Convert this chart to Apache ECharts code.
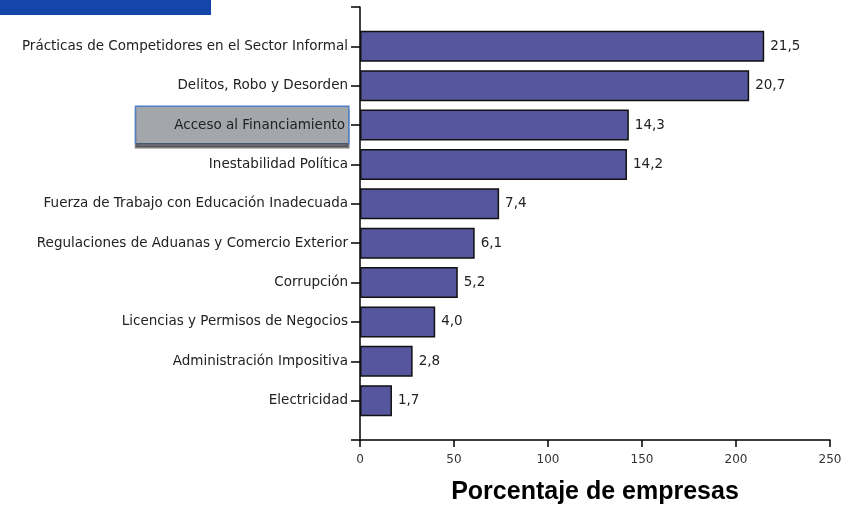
<!DOCTYPE html>
<html><head><meta charset="utf-8">
<script src="https://cdn.jsdelivr.net/npm/echarts@6/dist/echarts.min.js"></script>
<style>html,body{margin:0;padding:0;background:#fff}#c{width:844px;height:506px}</style>
</head><body><div id="c"></div>
<script>
var categories = [
  'Prácticas de Competidores en el Sector Informal',
  'Delitos, Robo y Desorden',
  'Acceso al Financiamiento',
  'Inestabilidad Política',
  'Fuerza de Trabajo con Educación Inadecuada',
  'Regulaciones de Aduanas y Comercio Exterior',
  'Corrupción',
  'Licencias y Permisos de Negocios',
  'Administración Impositiva',
  'Electricidad'
];
var values = [215, 207, 143, 142, 74, 61, 52, 40, 28, 17];
var highlighted = 'Acceso al Financiamiento';
var xTicks = [0, 50, 100, 150, 200, 250];

var cats = [''].concat(categories).concat(['']);
var data = [null].concat(values).concat([null]);
var FF = 'DejaVu Sans, Verdana, sans-serif';

var chart = echarts.init(document.getElementById('c'));
chart.setOption({
  animation: false,
  graphic: [{type:'rect', left:0, top:0, shape:{width:211, height:15}, style:{fill:'#1346A8'}}],
  grid: {left:360, right:14, top:7, bottom:66, containLabel:false, outerBoundsMode:'none'},
  xAxis: {
    type:'value', min:xTicks[0], max:xTicks[xTicks.length-1], interval:50,
    splitLine:{show:false},
    axisLine:{show:true, lineStyle:{color:'#000', width:1.5}},
    axisTick:{show:true, length:7, lineStyle:{color:'#000', width:1.5}},
    axisLabel:{color:'#333', fontFamily:FF, fontSize:12, margin:14},
    name:'Porcentaje de empresas', nameLocation:'middle', nameGap:40,
    nameTextStyle:{color:'#000', fontFamily:'Liberation Sans, Arial', fontSize:25, fontWeight:'bold'}
  },
  yAxis: {
    type:'category', data:cats, inverse:true, boundaryGap:false,
    axisLine:{show:true, onZero:false, lineStyle:{color:'#000', width:1.5}},
    axisTick:{show:true, length:9, alignWithLabel:true, lineStyle:{color:'#000', width:1.5}},
    axisLabel:{color:'#222', fontFamily:FF, fontSize:13.5, margin:12, interval:0,
      formatter:function(v){ return v === highlighted ? '{hl|'+v+'}' : v; },
      rich:{hl:{color:'#222', fontFamily:FF, fontSize:13.5,
        backgroundColor:'#A3A6AA', borderColor:'#4F80C8', borderWidth:1.5,
        padding:[11,3,11,38], shadowColor:'rgba(70,70,70,0.7)', shadowOffsetY:4, shadowOffsetX:0, shadowBlur:0}}
    }
  },
  series: [{
    type:'bar', data:data, barWidth:31,
    itemStyle:{color:'#56569E', borderColor:'#111', borderWidth:1.5},
    label:{show:true, position:'right', distance:6, color:'#222', fontFamily:FF, fontSize:13.5,
      formatter:function(p){ return (p.value/10).toFixed(1).replace('.', ','); }}
  }]
});
</script></body></html>
